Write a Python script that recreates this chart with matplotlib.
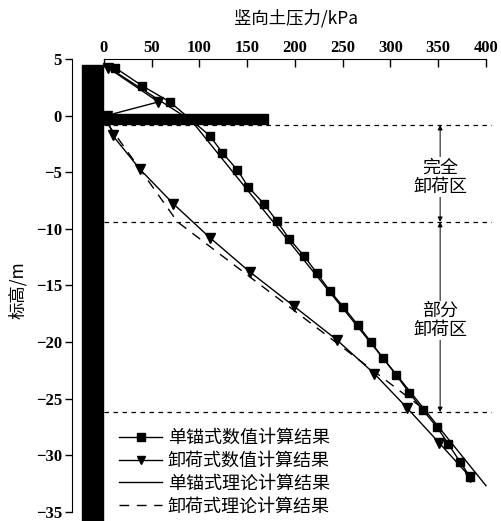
import numpy as np
import matplotlib.pyplot as plt
from matplotlib.patches import Rectangle

# data (pressure in kPa, elevation in m)
anchor_elev = [4.2, 2.65, 1.2, -1.8, -3.3, -4.8, -6.3, -7.8, -9.3, -10.9, -12.4, -13.9,
               -15.5, -16.9, -18.5, -20.0, -21.4, -22.9, -24.5, -26.0, -27.5, -29.0, -30.6, -31.9]
anchor_p = [12, 39.5, 69, 111, 124, 139.6, 151, 167.5, 180.8, 194, 209.4, 222.7,
            236.6, 250.6, 265.7, 279.5, 291.8, 305.8, 319.7, 333.7, 348.4, 360.5, 372.8, 383.2]

relief_elev = [4.2, 1.2, 0.0, -1.75, -4.75, -7.8, -10.8, -13.8, -16.85, -19.8, -22.8, -25.8, -28.9, -31.9]
relief_p = [4.5, 57, 3, 9, 37.7, 72.6, 111, 152.5, 199, 243.5, 283, 317, 350.8, 383]

theory_anchor_elev = [4.5, -0.5, -32.7]
theory_anchor_p = [0, 92, 400]

theory_relief_elev = [-0.75, -9.4, -26.2]
theory_relief_p = [4, 77, 339]

zone_bounds = [-0.84, -9.4, -26.2]
zone_labels = ['完全\n卸荷区', '部分\n卸荷区']
zone_label_elev = [-5.45, -18.1]

labels = ['单锚式数值计算结果', '卸荷式数值计算结果', '单锚式理论计算结果', '卸荷式理论计算结果']

cjk = ['Noto Sans CJK SC', 'DejaVu Sans']
plt.rcParams['font.family'] = ['Liberation Serif', 'DejaVu Sans']

fig = plt.figure(figsize=(5.02, 5.21), dpi=100)
ax = fig.add_axes([71.7 / 502, 0, 420.3 / 502, 462.1 / 521])

ax.plot(anchor_p, anchor_elev, '-', color='black', lw=1.0, marker='s', ms=6, label=labels[0], zorder=3)
ax.plot(relief_p, relief_elev, '-', color='black', lw=1.0, marker='v', ms=7, label=labels[1], zorder=3)
ax.plot(theory_anchor_p, theory_anchor_elev, '-', color='black', lw=1.0, label=labels[2], zorder=2)
ax.plot(theory_relief_p, theory_relief_elev, color='black', lw=1.0, ls=(0, (7, 5.5)), label=labels[3], zorder=2)

# zone boundaries
for b in zone_bounds:
    ax.plot([0, 406], [b, b], color='black', lw=0.9, ls=(0, (3.6, 3.6)), zorder=1)

# wall and relieving platform
ax.add_patch(Rectangle((-22.7, -40), 21.3, 44.47, color='black', zorder=5, clip_on=False))
ax.add_patch(Rectangle((-1.5, -0.75), 173.5, 0.85, color='black', zorder=5))

# zone arrows and text
for i in range(2):
    ax.annotate('', xy=(352, zone_bounds[i]), xytext=(352, zone_bounds[i + 1]),
                arrowprops=dict(arrowstyle='<|-|>', color='black', lw=0.7,
                                mutation_scale=7, shrinkA=0, shrinkB=0))
    ax.text(352, zone_label_elev[i], zone_labels[i], ha='center', va='center',
            fontsize=13, family=cjk, linespacing=1.05,
            bbox=dict(facecolor='white', edgecolor='none', pad=1))

ax.set_xlim(-33.8, 406.3)
ax.set_ylim(-35.82, 5)
ax.xaxis.tick_top()
ax.set_xticks(np.arange(0, 401, 50))
ax.set_yticks(np.arange(-35, 6, 5))
ax.spines['right'].set_visible(False)
ax.spines['bottom'].set_visible(False)
ax.spines['top'].set_bounds(0, 400)
ax.spines['left'].set_bounds(-35, 5)
ax.tick_params(axis='x', direction='in', length=6, width=1, labelsize=12, pad=2)
ax.tick_params(axis='y', direction='out', length=5, width=1, labelsize=12, pad=2)
for t in ax.get_xticklabels() + ax.get_yticklabels():
    t.set_fontweight('bold')

fig.text(296 / 502, 1 - 18 / 521, '竖向土压力/kPa', ha='center', va='center', fontsize=12.5, family=cjk)
fig.text(18 / 502, 1 - 290 / 521, '标高/m', ha='center', va='center', rotation=90, fontsize=12.5, family=cjk)

ax.legend(loc='upper left', bbox_to_anchor=(119 / 502, 1 - 429 / 521), bbox_transform=fig.transFigure,
          frameon=False, prop={'family': cjk, 'size': 13}, handlelength=2.4, handletextpad=0.3,
          labelspacing=0.27, borderpad=0, borderaxespad=0, markerscale=0.9)

fig.savefig('out.png', dpi=100)
